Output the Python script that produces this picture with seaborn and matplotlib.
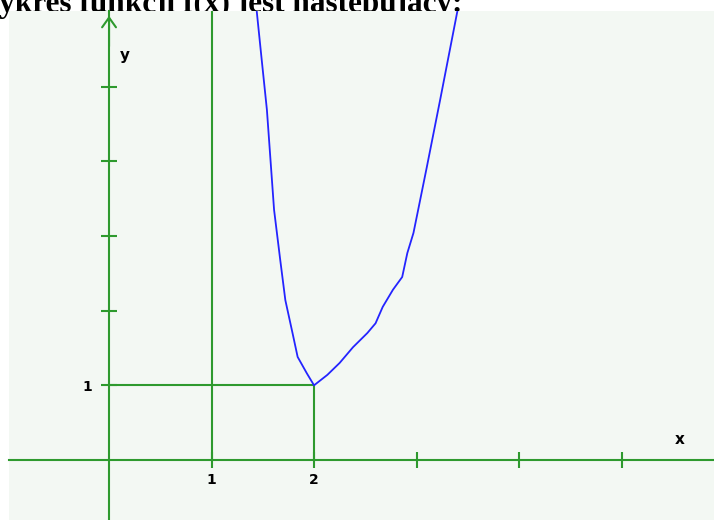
import matplotlib
matplotlib.use('Agg')
import matplotlib.pyplot as plt
import seaborn as sns

# points of the curve (x, f(x))
curve_x = [1.44, 1.49, 1.54, 1.61, 1.67, 1.72, 1.79, 1.84, 1.93, 2.00,
           2.13, 2.25, 2.38, 2.52, 2.60, 2.67, 2.77, 2.86, 2.91, 2.97,
           3.01, 3.10, 3.23, 3.40]
curve_y = [6.02, 5.35, 4.69, 3.35, 2.68, 2.14, 1.70, 1.38, 1.16, 1.00,
           1.14, 1.30, 1.51, 1.70, 1.83, 2.05, 2.28, 2.45, 2.77, 3.04,
           3.31, 3.92, 4.82, 6.02]

x_ticks = [1, 2, 3, 4, 5]
x_tick_labels = ['1', '2', '', '', '']
y_ticks = [1, 2, 3, 4, 5]
y_tick_labels = ['1', '', '', '', '']
min_x, min_y = 2, 1

title = 'Wykres funkcji f(x) jest następujący:'

GREEN = '#2e9a2e'
BLUE = '#2424ff'
BG = '#f3f8f3'

sns.set_style('white')
label_font = ['Liberation Sans Narrow', 'DejaVu Sans']

fig = plt.figure(figsize=(7.14, 5.2), dpi=100)
fig.patch.set_facecolor('white')
ax = fig.add_axes([9 / 714, 0, 705 / 714, 509 / 520])
ax.set_facecolor(BG)

xmin, xmax = -0.976, 5.902
ymin, ymax = -0.803, 6.011
ax.set_xlim(xmin, xmax)
ax.set_ylim(ymin, ymax)

# axes through the origin
for side in ['top', 'right']:
    ax.spines[side].set_visible(False)
ax.spines['left'].set_position(('data', 0))
ax.spines['bottom'].set_position(('data', 0))
for side in ['left', 'bottom']:
    ax.spines[side].set_color(GREEN)
    ax.spines[side].set_linewidth(1.5)

ax.set_xticks(x_ticks)
ax.set_xticklabels(x_tick_labels)
ax.set_yticks(y_ticks)
ax.set_yticklabels(y_tick_labels)
ax.tick_params(bottom=True, left=True, direction='inout', length=12,
               width=1.5, color=GREEN, labelsize=10, labelcolor='black')
ax.tick_params(axis='x', pad=3)
ax.tick_params(axis='y', pad=6)
for lab in ax.get_xticklabels() + ax.get_yticklabels():
    lab.set_fontweight('bold')
    lab.set_family(label_font)

# guide lines
ax.vlines(x_ticks[0], 0, ymax, color=GREEN, lw=1.5)
ax.vlines(min_x, 0, min_y, color=GREEN, lw=1.5)
ax.hlines(min_y, 0, min_x, color=GREEN, lw=1.5)

# arrows on the axes
ax.annotate('', xy=(0, 5.984), xytext=(0, 5.5),
            arrowprops=dict(arrowstyle='->,head_length=0.7,head_width=0.5',
                            color=GREEN, lw=1.5))
ax.annotate('', xy=(xmax + 0.01, 0), xytext=(xmax - 0.3, 0),
            arrowprops=dict(arrowstyle='->,head_length=0.5,head_width=0.4',
                            color=GREEN, lw=1.5))

# the function
sns.lineplot(x=curve_x, y=curve_y, estimator=None, color=BLUE, lw=1.3, ax=ax)

ax.text(0.156, 5.42, 'y', fontsize=11, fontweight='bold', color='black',
        ha='center', va='center', family=label_font)
ax.text(5.57, 0.28, 'x', fontsize=11, fontweight='bold', color='black',
        ha='center', va='center', family=label_font)

# heading above, partly hidden behind the plot
fig.text(-31 / 714, 1 - 12 / 520, title, ha='left', va='baseline',
         fontsize=22.5, fontweight='bold', color='black',
         family='Liberation Serif', zorder=-1)

fig.savefig('out.png', dpi=100)
